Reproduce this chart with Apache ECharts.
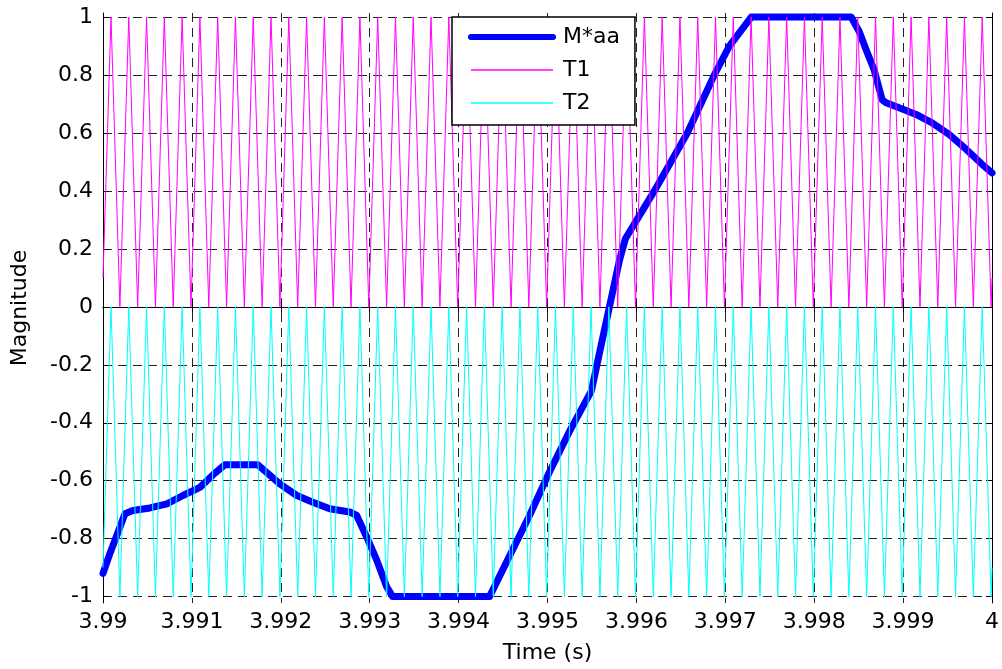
<!DOCTYPE html>
<html>
<head>
<meta charset="utf-8">
<script src="https://cdn.jsdelivr.net/npm/echarts@6/dist/echarts.min.js"></script>
<style>html,body{margin:0;padding:0;background:#fff}#c{width:1002px;height:669px}</style>
</head>
<body>
<div id="c"></div>
<script>
// Reference signal M*aa (time in s, magnitude)
const maaTime = [3.99, 3.990079, 3.990191, 3.990247, 3.990337, 3.990528, 3.990719, 3.990899, 3.99109, 3.991236,
  3.991371, 3.991742, 3.991989, 3.99218, 3.99236, 3.99255, 3.992775, 3.992854, 3.992966, 3.993079,
  3.993191, 3.993258, 3.994348, 3.994573, 3.994798, 3.995022, 3.995247, 3.995494, 3.995584, 3.995697,
  3.995809, 3.995876, 3.996202, 3.996573, 3.996876, 3.997045, 3.997292, 3.998416, 3.998506, 3.998584,
  3.998674, 3.998764, 3.998809, 3.998955, 3.999146, 3.999326, 3.999517, 3.999708, 3.999888, 4.0];
const maaValue = [-0.92, -0.85, -0.76, -0.714, -0.703, -0.694, -0.68, -0.651, -0.623, -0.58,
  -0.545, -0.545, -0.611, -0.651, -0.674, -0.697, -0.708, -0.72, -0.794, -0.874,
  -0.966, -1.0, -1.0, -0.86, -0.72, -0.57, -0.43, -0.29, -0.16, 0.0,
  0.16, 0.235, 0.40, 0.60, 0.80, 0.90, 1.0, 1.0, 0.95, 0.887,
  0.818, 0.715, 0.704, 0.687, 0.664, 0.635, 0.595, 0.544, 0.492, 0.462];

// Carrier corner times (peaks and troughs)
const carrierTime = [3.99,
  3.99009,3.99019,3.99029,3.99039,3.99049,3.99059,3.99069,3.99079,3.99089,3.99099,
  3.99109,3.99119,3.99129,3.99139,3.99149,3.99159,3.99169,3.99179,3.99189,3.99199,
  3.99209,3.99219,3.99229,3.99239,3.99249,3.99259,3.99269,3.99279,3.99289,3.99299,
  3.99309,3.99319,3.99329,3.99339,3.99349,3.99359,3.99369,3.99379,3.99389,3.99399,
  3.99409,3.99419,3.99429,3.99439,3.99449,3.99459,3.99469,3.99479,3.99489,3.99499,
  3.99509,3.99519,3.99529,3.99539,3.99549,3.99559,3.99569,3.99579,3.99589,3.99599,
  3.99609,3.99619,3.99629,3.99639,3.99649,3.99659,3.99669,3.99679,3.99689,3.99699,
  3.99709,3.99719,3.99729,3.99739,3.99749,3.99759,3.99769,3.99779,3.99789,3.99799,
  3.99809,3.99819,3.99829,3.99839,3.99849,3.99859,3.99869,3.99879,3.99889,3.99899,
  3.99909,3.99919,3.99929,3.99939,3.99949,3.99959,3.99969,3.99979,3.99989,3.99999,
  4.0];
const t1Value = [0.1,
  1,0,1,0,1,0,1,0,1,0, 1,0,1,0,1,0,1,0,1,0,
  1,0,1,0,1,0,1,0,1,0, 1,0,1,0,1,0,1,0,1,0,
  1,0,1,0,1,0,1,0,1,0, 1,0,1,0,1,0,1,0,1,0,
  1,0,1,0,1,0,1,0,1,0, 1,0,1,0,1,0,1,0,1,0,
  1,0,1,0,1,0,1,0,1,0, 1,0,1,0,1,0,1,0,1,0,
  0.1];
const t2Value = [-0.9,
  0,-1,0,-1,0,-1,0,-1,0,-1, 0,-1,0,-1,0,-1,0,-1,0,-1,
  0,-1,0,-1,0,-1,0,-1,0,-1, 0,-1,0,-1,0,-1,0,-1,0,-1,
  0,-1,0,-1,0,-1,0,-1,0,-1, 0,-1,0,-1,0,-1,0,-1,0,-1,
  0,-1,0,-1,0,-1,0,-1,0,-1, 0,-1,0,-1,0,-1,0,-1,0,-1,
  0,-1,0,-1,0,-1,0,-1,0,-1, 0,-1,0,-1,0,-1,0,-1,0,-1,
  -0.9];

const xTicks = [3.99, 3.991, 3.992, 3.993, 3.994, 3.995, 3.996, 3.997, 3.998, 3.999, 4];
const yTicks = [-1, -0.8, -0.6, -0.4, -0.2, 0, 0.2, 0.4, 0.6, 0.8, 1];
const seriesNames = ['M*aa', 'T1', 'T2'];

function pairs(xs, ys) { return xs.map((x, i) => [x, ys[i]]); }

const FONT = 'DejaVu Sans';
const gridLine = { show: true, lineStyle: { color: '#222', type: [9, 6], width: 1 } };
const axisLine = { show: true, lineStyle: { color: '#000', width: 1 } };
const hiddenSymbol = { opacity: 0, borderWidth: 0 };

const chart = echarts.init(document.getElementById('c'), null, { renderer: 'canvas' });
chart.setOption({
  animation: false,
  backgroundColor: '#fff',
  textStyle: { fontFamily: FONT },
  grid: { left: 103, right: 9, top: 13, bottom: 63, containLabel: false },
  legend: {
    data: [
      { name: seriesNames[0], lineStyle: { width: 6, opacity: 1 }, itemStyle: hiddenSymbol },
      { name: seriesNames[1], lineStyle: { width: 1.5, opacity: 1 }, itemStyle: hiddenSymbol },
      { name: seriesNames[2], lineStyle: { width: 1.5, opacity: 1 }, itemStyle: hiddenSymbol }
    ],
    orient: 'vertical',
    left: 452, top: 17,
    itemWidth: 82, itemHeight: 22, itemGap: 11,
    padding: [9, 15, 11, 16],
    backgroundColor: '#fff',
    borderColor: '#000', borderWidth: 1.5,
    itemStyle: hiddenSymbol,
    textStyle: { fontFamily: FONT, fontSize: 22, color: '#000', padding: [0, 0, 0, 5] },
    selectedMode: false
  },
  xAxis: [
    {
      type: 'value', min: 3.99, max: 4, position: 'bottom',
      name: 'Time (s)', nameLocation: 'middle', nameGap: 39,
      nameTextStyle: { fontFamily: FONT, fontSize: 22, color: '#000' },
      axisLine: axisLine,
      axisTick: { show: true, inside: true, length: 6, customValues: xTicks, lineStyle: { color: '#000' } },
      axisLabel: { show: true, customValues: xTicks, margin: 8, fontFamily: FONT, fontSize: 22, color: '#000',
        formatter: v => String(+(+v).toFixed(3)) },
      splitLine: gridLine
    },
    {
      type: 'value', min: 3.99, max: 4, position: 'top',
      axisLine: axisLine,
      axisTick: { show: true, inside: true, length: 6, customValues: xTicks, lineStyle: { color: '#000' } },
      axisLabel: { show: false },
      splitLine: { show: false }
    }
  ],
  yAxis: [
    {
      type: 'value', min: -1.022, max: 1.014, position: 'left',
      name: 'Magnitude', nameLocation: 'middle', nameGap: 72, nameRotate: 90,
      nameTextStyle: { fontFamily: FONT, fontSize: 22, color: '#000' },
      axisLine: axisLine,
      axisTick: { show: true, inside: true, length: 6, customValues: yTicks, lineStyle: { color: '#000' } },
      axisLabel: { show: true, customValues: yTicks, margin: 10, fontFamily: FONT, fontSize: 22, color: '#000',
        formatter: v => String(+(+v).toFixed(1)) },
      splitLine: gridLine
    },
    {
      type: 'value', min: -1.022, max: 1.014, position: 'right',
      axisLine: axisLine,
      axisTick: { show: true, inside: true, length: 6, customValues: yTicks, lineStyle: { color: '#000' } },
      axisLabel: { show: false },
      splitLine: { show: false }
    }
  ],
  series: [
    {
      name: seriesNames[0], type: 'line', symbol: 'none', xAxisIndex: 0, yAxisIndex: 0,
      data: pairs(maaTime, maaValue),
      lineStyle: { color: '#0000ff', width: 7, join: 'round', cap: 'round' },
      itemStyle: { color: '#0000ff' }
    },
    {
      name: seriesNames[1], type: 'line', symbol: 'none', xAxisIndex: 0, yAxisIndex: 0,
      data: pairs(carrierTime, t1Value),
      lineStyle: { color: '#ff00ff', width: 1 },
      itemStyle: { color: '#ff00ff' }
    },
    {
      name: seriesNames[2], type: 'line', symbol: 'none', xAxisIndex: 0, yAxisIndex: 0,
      data: pairs(carrierTime, t2Value),
      lineStyle: { color: '#00ffff', width: 1 },
      itemStyle: { color: '#00ffff' }
    }
  ]
});
</script>
</body>
</html>
